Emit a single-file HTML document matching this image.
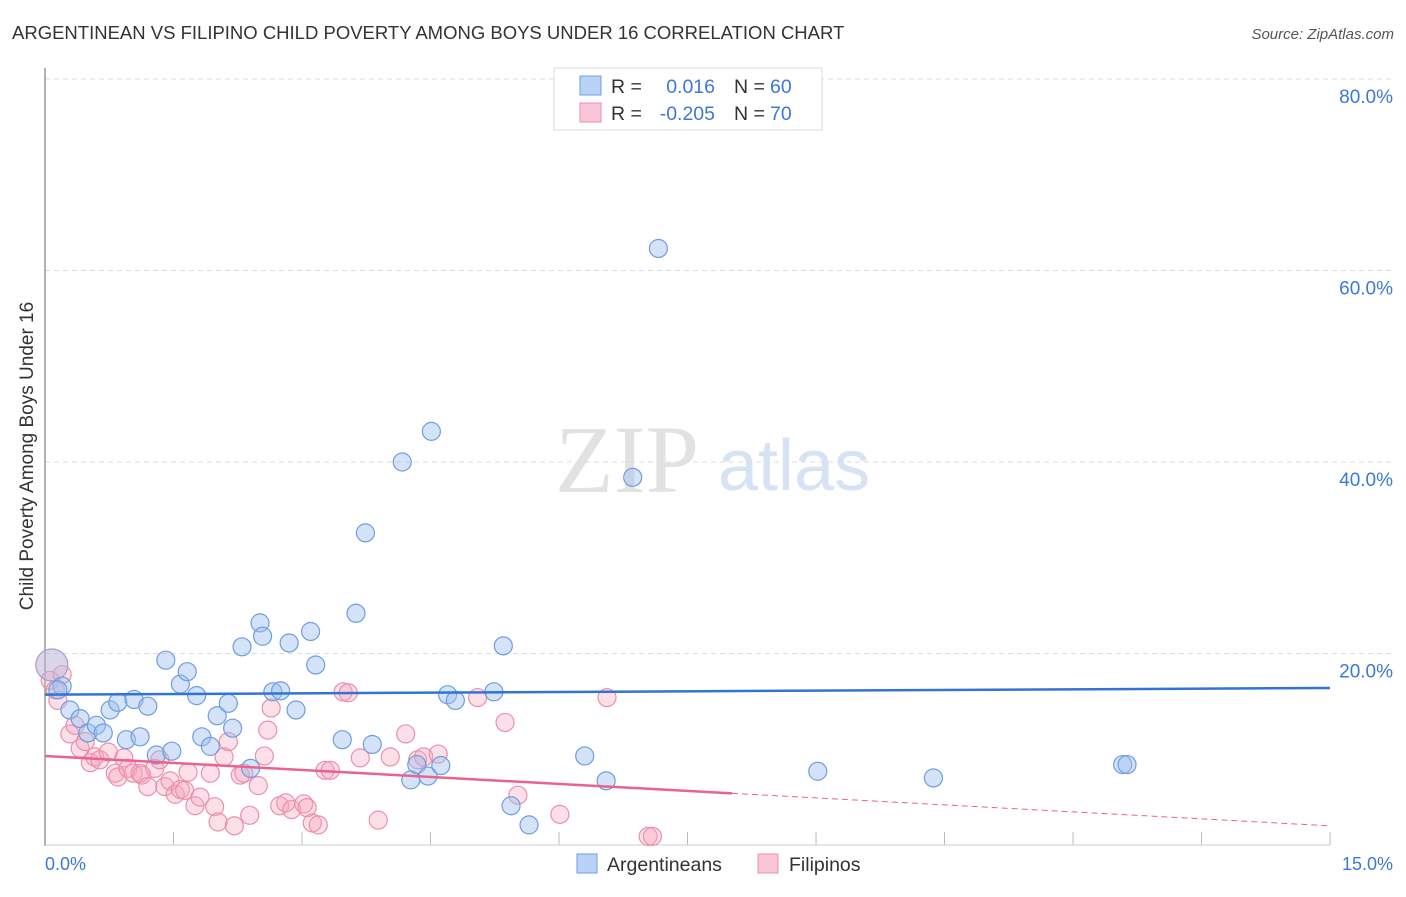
<!DOCTYPE html>
<html><head><meta charset="utf-8"><style>
body{margin:0;background:#fff;font-family:"Liberation Sans",sans-serif;}
svg text{font-family:"Liberation Sans",sans-serif;}
</style></head><body>
<svg id="chart" width="1406" height="892">
<text x="12" y="39" font-size="18.5" fill="#333">ARGENTINEAN VS FILIPINO CHILD POVERTY AMONG BOYS UNDER 16 CORRELATION CHART</text>
<text x="1394" y="39" font-size="15" fill="#555" font-style="italic" text-anchor="end">Source: ZipAtlas.com</text>
<text x="555" y="492" font-size="96" fill="#e2e2e2" style="font-family:'Liberation Serif',serif">ZIP</text>
<text x="718" y="490" font-size="72" fill="#d6e3f5">atlas</text>
<g id="grid"></g>
<line x1="45" y1="68" x2="45" y2="846" stroke="#999" stroke-width="1.5"/>
<line x1="45" y1="845" x2="1330" y2="845" stroke="#ccc"/>
<text x="33" y="456" font-size="19" fill="#333" transform="rotate(-90 33 456)" text-anchor="middle">Child Poverty Among Boys Under 16</text>
<text x="45" y="870" font-size="18" fill="#3b78d8">0.0%</text>
<text x="1393" y="870" font-size="18" fill="#3b78d8" text-anchor="end">15.0%</text>
<g id="points"></g>
<g id="trends"></g>
<g>
<rect x="554" y="68" width="268" height="62" fill="#fff" stroke="#ddd"/>
<rect x="580" y="76" width="21" height="19" fill="#b9d2f5" stroke="#6f9de0"/>
<rect x="580" y="103" width="21" height="19" fill="#f9c6d6" stroke="#ec8fac"/>
<text x="611" y="93" font-size="19.5" fill="#333">R =</text>
<text x="715" y="93" font-size="19.5" fill="#3b78d8" text-anchor="end">0.016</text>
<text x="734" y="93" font-size="19.5" fill="#333">N =</text>
<text x="770" y="93" font-size="19.5" fill="#3b78d8">60</text>
<text x="611" y="120" font-size="19.5" fill="#333">R =</text>
<text x="715" y="120" font-size="19.5" fill="#3b78d8" text-anchor="end">-0.205</text>
<text x="734" y="120" font-size="19.5" fill="#333">N =</text>
<text x="770" y="120" font-size="19.5" fill="#3b78d8">70</text>
</g>
<g>
<rect x="577" y="854" width="20" height="19" fill="#b9d2f5" stroke="#6f9de0"/>
<text x="607" y="871" font-size="19.5" fill="#333">Argentineans</text>
<rect x="758" y="854" width="20" height="19" fill="#f9c6d6" stroke="#ec8fac"/>
<text x="789" y="871" font-size="19.5" fill="#333">Filipinos</text>
</g>
</svg>
<script>
const yTicks=[20,40,60,80];
const yTickLabels=["20.0%","40.0%","60.0%","80.0%"];
const xTicks=[1.5,3,4.5,6,7.5,9,10.5,12,13.5,15];
const argX=[0.08,0.20,0.15,0.29,0.41,0.50,0.60,0.68,0.76,0.85,0.95,1.04,1.11,1.20,1.30,1.41,1.48,1.58,1.66,1.77,1.83,1.93,2.01,2.14,2.19,2.30,2.40,2.51,2.54,2.66,2.75,2.85,2.93,3.10,3.16,3.47,3.63,3.74,3.82,4.17,4.27,4.34,4.47,4.51,4.62,4.70,4.79,5.24,5.35,5.44,5.65,6.30,6.55,6.86,7.16,9.02,10.37,12.58,12.63];
const argY=[18.8,16.6,16.2,14.1,13.2,11.7,12.5,11.7,14.1,14.9,11.0,15.2,11.3,14.5,9.4,19.3,9.8,16.8,18.1,15.6,11.3,10.3,13.5,14.8,12.2,20.7,8.0,23.2,21.8,16.0,16.1,21.1,14.1,22.3,18.8,11.0,24.2,32.6,10.5,40.0,6.8,8.4,7.2,43.2,8.3,15.7,15.1,16.0,20.8,4.1,2.1,9.3,6.7,38.4,62.3,7.7,7.0,8.4,8.4];
const filX=[0.06,0.12,0.15,0.20,0.29,0.35,0.41,0.47,0.53,0.58,0.64,0.74,0.82,0.85,0.92,0.97,1.03,1.11,1.13,1.20,1.28,1.34,1.40,1.46,1.52,1.58,1.63,1.67,1.75,1.81,1.93,1.98,2.02,2.09,2.14,2.21,2.28,2.32,2.39,2.49,2.56,2.60,2.64,2.74,2.81,2.88,3.02,3.06,3.12,3.19,3.27,3.33,3.48,3.54,3.68,3.89,4.03,4.21,4.35,4.42,4.59,5.05,5.37,5.52,6.01,6.56,7.04,7.09];
const filY=[17.2,16.2,15.1,17.8,11.6,12.5,10.1,10.8,8.6,9.2,8.9,9.7,7.5,7.1,9.1,8.0,7.5,7.5,7.3,6.1,8.0,8.9,6.1,6.7,5.3,5.8,5.7,7.6,4.1,5.0,7.5,4.0,2.4,9.2,10.8,2.0,7.3,7.5,3.1,6.2,9.3,12.0,14.3,4.1,4.4,3.7,4.3,3.9,2.3,2.1,7.8,7.8,16.0,15.9,9.1,2.6,9.2,11.6,8.9,9.2,9.5,15.4,12.8,5.2,3.2,15.4,0.9,0.9];
const argTrend=[15.7,16.4];
const filTrend=[9.3,2.0];
const filSolidEnd=8.02;

const NS="http://www.w3.org/2000/svg";
const sx=v=>45+v*85.67;
const sy=v=>845-v*9.575;
function mk(tag,attrs,parent){const e=document.createElementNS(NS,tag);for(const k in attrs)e.setAttribute(k,attrs[k]);parent.appendChild(e);return e;}
const grid=document.getElementById('grid');
yTicks.forEach((t,i)=>{
  const l=mk('line',{x1:45,x2:1395,y1:sy(t),y2:sy(t),stroke:'#ddd','stroke-dasharray':'5,4'},grid);
  
  
  const tx=mk('text',{x:1393,y:sy(t)+24,'font-size':19,fill:'#3b78d8','text-anchor':'end'},grid);
  tx.textContent=yTickLabels[i];
  
  
});
xTicks.forEach(t=>{
  const l=mk('line',{x1:sx(t),x2:sx(t),y1:832,y2:845,stroke:'#bbb'},grid);
  
  
});
const pts=document.getElementById('points');
filX.forEach((x,i)=>{
  const c=mk('circle',{cx:sx(x),cy:sy(filY[i]),r:9,fill:'rgba(245,165,190,0.35)',stroke:'#ec8fac','stroke-width':1.2},pts);
  
  
});
argX.forEach((x,i)=>{
  const c=mk('circle',{cx:sx(x),cy:sy(argY[i]),r:i===0?16:9,fill:i===0?'rgba(190,180,215,0.55)':'rgba(160,192,238,0.45)',stroke:i===0?'#a99cc8':'#6f9de0','stroke-width':1.2},pts);
  
  
});
const tr=document.getElementById('trends');
const a=mk('line',{x1:sx(0),y1:sy(argTrend[0]),x2:sx(15),y2:sy(argTrend[1]),stroke:'#2f74d6','stroke-width':2.5},tr);


const fy=x=>filTrend[0]+(filTrend[1]-filTrend[0])*x/15;
const f1=mk('line',{x1:sx(0),y1:sy(fy(0)),x2:sx(filSolidEnd),y2:sy(fy(filSolidEnd)),stroke:'#e8638e','stroke-width':2.5},tr);


const f2=mk('line',{x1:sx(filSolidEnd),y1:sy(fy(filSolidEnd)),x2:sx(15),y2:sy(fy(15)),stroke:'#e8638e','stroke-width':1,'stroke-dasharray':'6,4'},tr);


</script>
</body></html>
